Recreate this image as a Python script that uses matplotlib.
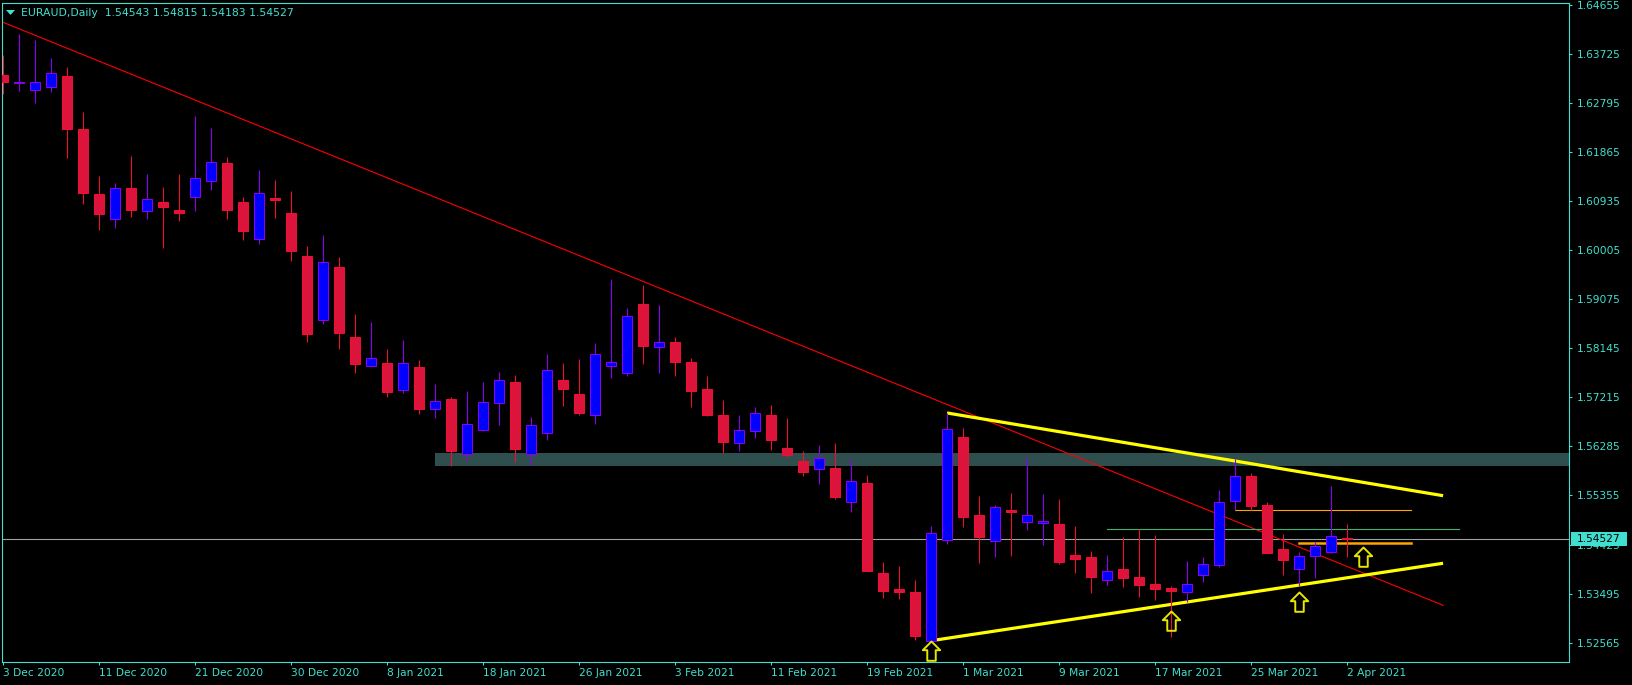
import numpy as np
import matplotlib
matplotlib.use("Agg")
import matplotlib.pyplot as plt
from matplotlib.patches import Rectangle, Polygon
from matplotlib.path import Path
from matplotlib.markers import MarkerStyle
from matplotlib.transforms import blended_transform_factory

# ---------------- data ----------------
symbol = "EURAUD"
timeframe = "Daily"

opens = [1.63331, 1.63181, 1.63041, 1.63109, 1.63306, 1.62307, 1.61074, 1.60605, 1.61182, 1.60746,
         1.60922, 1.60770, 1.61023, 1.61326, 1.61656, 1.60922, 1.60226, 1.60998, 1.60713, 1.59898,
         1.58690, 1.59689, 1.58361, 1.57817, 1.57868, 1.57362, 1.57792, 1.57001, 1.57185, 1.56136,
         1.56603, 1.57115, 1.57508, 1.56136, 1.56535, 1.57546, 1.57280, 1.56876, 1.57817, 1.57684,
         1.58987, 1.58166, 1.58261, 1.57882, 1.57369, 1.56876, 1.56345, 1.56584, 1.56876, 1.56250,
         1.56004, 1.55852, 1.55871, 1.55226, 1.55592, 1.53879, 1.53581, 1.53519, 1.52601, 1.54505,
         1.56465, 1.54985, 1.54486, 1.55080, 1.54847, 1.54828, 1.54814, 1.54221, 1.54183, 1.53747,
         1.53955, 1.53803, 1.53671, 1.53595, 1.53519, 1.53841, 1.54042, 1.55245, 1.55719, 1.55169,
         1.54335, 1.53955, 1.54202, 1.54278, 1.54543]

highs = [1.63710, 1.64109, 1.63995, 1.63653, 1.63483, 1.62629, 1.61415, 1.61283, 1.61795, 1.61453,
         1.61207, 1.61453, 1.62553, 1.62326, 1.61776, 1.61017, 1.61529, 1.61339, 1.61131, 1.60088,
         1.60296, 1.59873, 1.58798, 1.58646, 1.58134, 1.58305, 1.57925, 1.57470, 1.57223, 1.57337,
         1.57508, 1.57698, 1.57641, 1.56844, 1.58039, 1.57868, 1.57944, 1.58248, 1.59462, 1.58912,
         1.59348, 1.58968, 1.58356, 1.57963, 1.57622, 1.57166, 1.56876, 1.57034, 1.57072, 1.56825,
         1.56199, 1.56313, 1.56345, 1.56042, 1.55744, 1.54094, 1.54018, 1.53752, 1.54771, 1.56914,
         1.56635, 1.55346, 1.55169, 1.55397, 1.56080, 1.55383, 1.55289, 1.54776, 1.54302, 1.54221,
         1.54562, 1.54714, 1.54600, 1.53638, 1.54107, 1.54188, 1.55459, 1.56042, 1.55776, 1.55232,
         1.54625, 1.54289, 1.54473, 1.55535, 1.54815]

lows = [1.62971, 1.63033, 1.62806, 1.63014, 1.61762, 1.60890, 1.60397, 1.60435, 1.60638, 1.60600,
        1.60055, 1.60562, 1.60757, 1.61150, 1.60600, 1.60207, 1.60131, 1.60624, 1.59803, 1.58272,
        1.58614, 1.58134, 1.57684, 1.57811, 1.57229, 1.57305, 1.56907, 1.56831, 1.55920, 1.56015,
        1.56584, 1.56698, 1.55996, 1.55939, 1.56413, 1.57058, 1.56888, 1.56717, 1.57589, 1.57627,
        1.57855, 1.57684, 1.57627, 1.57039, 1.56869, 1.56155, 1.56205, 1.56451, 1.56224, 1.56091,
        1.55731, 1.55579, 1.55283, 1.55036, 1.53917, 1.53416, 1.53392, 1.52608, 1.52595, 1.54441,
        1.54763, 1.54080, 1.54194, 1.54213, 1.54701, 1.54416, 1.54056, 1.53885, 1.53511, 1.53657,
        1.53625, 1.53435, 1.53378, 1.52671, 1.53341, 1.53720, 1.54004, 1.55080, 1.55080, 1.54259,
        1.53853, 1.53644, 1.53796, 1.54264, 1.54183]

closes = [1.63204, 1.63193, 1.63193, 1.63363, 1.62312, 1.61099, 1.60700, 1.61182, 1.60776, 1.60973,
          1.60833, 1.60719, 1.61372, 1.61675, 1.60776, 1.60378, 1.61087, 1.60966, 1.59993, 1.58424,
          1.59778, 1.58443, 1.57855, 1.57963, 1.57324, 1.57863, 1.57001, 1.57142, 1.56205, 1.56711,
          1.57123, 1.57540, 1.56237, 1.56687, 1.57735, 1.57381, 1.56926, 1.58039, 1.57882, 1.58754,
          1.58196, 1.58261, 1.57893, 1.57343, 1.56888, 1.56375, 1.56592, 1.56914, 1.56413, 1.56129,
          1.55806, 1.56072, 1.55332, 1.55624, 1.53929, 1.53549, 1.53530, 1.52696, 1.54638, 1.56611,
          1.54953, 1.54574, 1.55131, 1.55036, 1.54979, 1.54866, 1.54099, 1.54156, 1.53815, 1.53923,
          1.53796, 1.53663, 1.53587, 1.53538, 1.53671, 1.54050, 1.55226, 1.55719, 1.55162, 1.54270,
          1.54137, 1.54202, 1.54403, 1.54592, 1.54527]

date_labels = ["3 Dec 2020", "11 Dec 2020", "21 Dec 2020", "30 Dec 2020", "8 Jan 2021",
               "18 Jan 2021", "26 Jan 2021", "3 Feb 2021", "11 Feb 2021", "19 Feb 2021",
               "1 Mar 2021", "9 Mar 2021", "17 Mar 2021", "25 Mar 2021", "2 Apr 2021"]
bars_per_label = 6

price_ticks = [1.52565, 1.53495, 1.54425, 1.55355, 1.56285, 1.57215, 1.58145,
               1.59075, 1.60005, 1.60935, 1.61865, 1.62795, 1.63725, 1.64655]

# drawn objects: (bar index, price)
downtrend_bars = [0, 90]
downtrend_prices = [1.64331, 1.53272]
upper_wedge_bars = [59, 90]
upper_wedge_prices = [1.56920, 1.55351]
lower_wedge_bars = [58, 90]
lower_wedge_prices = [1.52600, 1.54069]
zone_start_bar = 27
zone_low = 1.55920
zone_high = 1.56161
green_level_bars = [69, 91]
green_level = 1.54714
orange_level_bars = [77, 88]
orange_level = 1.55074
orange_thick_bars = [81, 88]
orange_thick_level = 1.54454
arrow_bars = [58, 73, 81, 85]
arrow_prices = [1.52595, 1.53170, 1.53519, 1.54384]

# ---------------- style ----------------
W, H = 1633, 685
FG = "#40E0D0"
BULL_BODY = "#0000FF"
BULL_EDGE = "#8C00F0"
BEAR_BODY = "#DC143C"
BEAR_EDGE = "#EE1030"
FS = 7.7
plt.rcParams['font.family'] = ['DejaVu Sans']

fig = plt.figure(figsize=(W / 100, H / 100), dpi=100, facecolor="black")
ax_l, ax_r, ax_t, ax_b = 2.5, 1569.3, 2.7, 661.7
ax = fig.add_axes([ax_l / W, 1 - ax_b / H, (ax_r - ax_l) / W, (ax_b - ax_t) / H])
ax.set_facecolor("black")

o = np.array(opens); h = np.array(highs); l = np.array(lows); c = np.array(closes)
x = np.arange(len(o))
bull = c > o
bear = ~bull

xmin, xmax = -0.03, 97.89
ax.set_xlim(xmin, xmax)
ax.set_ylim(1.52202, 1.64702)

# support/resistance zone
ax.add_patch(Rectangle((zone_start_bar, zone_low), xmax + 5 - zone_start_bar, zone_high - zone_low,
                       facecolor="#2F4F4F", edgecolor="none", zorder=1))

# current price line
ax.axhline(c[-1], color="#A0A0A0", lw=0.8, zorder=1.5)

# trend lines
ax.plot(downtrend_bars, downtrend_prices, color="#FF0000", lw=0.8, zorder=2)
ax.plot(upper_wedge_bars, upper_wedge_prices, color="#FFFF00", lw=2.3, zorder=2, solid_capstyle='butt')
ax.plot(lower_wedge_bars, lower_wedge_prices, color="#FFFF00", lw=2.3, zorder=2, solid_capstyle='butt')
ax.plot(green_level_bars, [green_level] * 2, color="#3CB371", lw=0.8, zorder=2)
ax.plot(orange_level_bars, [orange_level] * 2, color="#FFA500", lw=0.8, zorder=2)
ax.plot(orange_thick_bars, [orange_thick_level] * 2, color="#FFA500", lw=1.8, zorder=2)

# candles
bw = 0.63
ax.vlines(x[bull], l[bull], h[bull], color=BULL_EDGE, lw=0.8, zorder=3)
ax.vlines(x[bear], l[bear], h[bear], color=BEAR_EDGE, lw=0.8, zorder=3)
ax.bar(x[bull], c[bull] - o[bull], bottom=o[bull], width=bw, color=BULL_BODY,
       edgecolor=BULL_EDGE, linewidth=0.75, zorder=4)
ax.bar(x[bear], o[bear] - c[bear], bottom=c[bear], width=bw, color=BEAR_BODY,
       edgecolor=BEAR_EDGE, linewidth=0.75, zorder=4)

# arrows
verts = [(0, 0), (0.45, -0.45), (0.22, -0.45), (0.22, -1), (-0.22, -1),
         (-0.22, -0.45), (-0.45, -0.45), (0, 0)]
codes = [Path.MOVETO] + [Path.LINETO] * 6 + [Path.CLOSEPOLY]
arrow_marker = MarkerStyle(Path(verts, codes))
ax.plot(arrow_bars, arrow_prices, ls="none", marker=arrow_marker, ms=27.8,
        mfc="none", mec="#E6E600", mew=1.4, zorder=5)

# axes styling
for sp in ax.spines.values():
    sp.set_color(FG)
    sp.set_linewidth(0.8)
ax.yaxis.tick_right()
ax.set_yticks(price_ticks)
ax.set_yticklabels([f"{p:.5f}" for p in price_ticks])
ax.set_xticks(np.arange(len(date_labels)) * bars_per_label)
ax.set_xticklabels(date_labels)
for lbl in ax.get_xticklabels():
    lbl.set_horizontalalignment("left")
ax.tick_params(axis="y", colors=FG, length=2.2, width=0.75, pad=3.1, labelsize=FS)
ax.tick_params(axis="x", colors=FG, length=2.2, width=0.75, pad=2.2, labelsize=FS)

# current price box
trans = blended_transform_factory(ax.transAxes, ax.transData)
axw = ax_r - ax_l
box_h = 13.4 / (ax_b - ax_t) * (1.64702 - 1.52202)
ax.add_patch(Rectangle((1 + 1.7 / axw, c[-1] - box_h / 2), 56 / axw, box_h, transform=trans,
                       facecolor=FG, edgecolor="none", clip_on=False, zorder=6))
ax.text(1 + 7.4 / axw, c[-1], f"{c[-1]:.5f}", transform=trans, color="black", fontsize=FS,
        va="center", ha="left", zorder=7, clip_on=False)

# header
fig.patches.append(Polygon([(6 / W, 1 - 10 / H), (15 / W, 1 - 10 / H), (10.5 / W, 1 - 15 / H)],
                           closed=True, transform=fig.transFigure, facecolor=FG, edgecolor="none"))
fig.text(21 / W, 1 - 12.7 / H,
         f"{symbol},{timeframe}  {o[-1]:.5f} {h[-1]:.5f} {l[-1]:.5f} {c[-1]:.5f}",
         color=FG, fontsize=7.8, va="center", ha="left")

fig.savefig("out.png", dpi=100, facecolor="black")
